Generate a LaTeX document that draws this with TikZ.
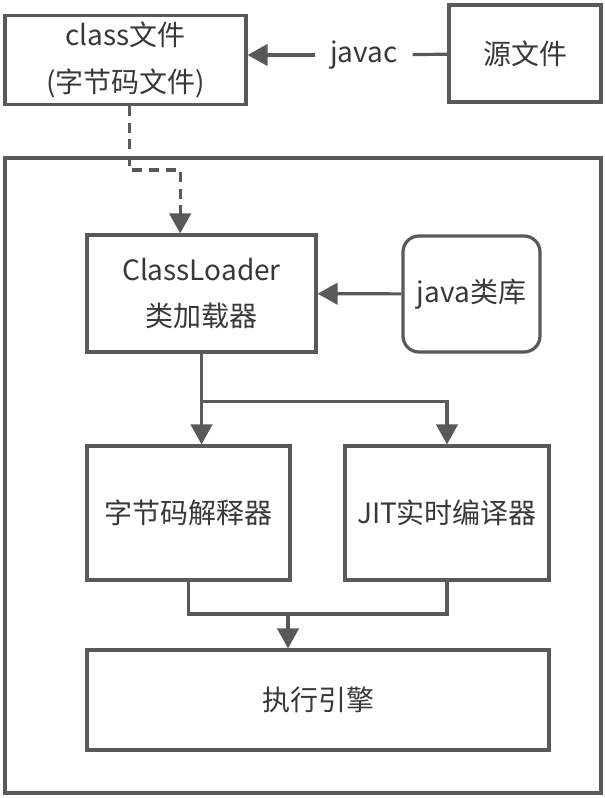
\documentclass[tikz,border=0pt]{standalone}
\usepackage{fontspec}
\newfontfamily\cjk{Noto Sans CJK SC}
\usepackage[HTML]{xcolor}
\usepackage{tikz}
\usetikzlibrary{positioning, arrows, arrows.meta}
\definecolor{linegray}{HTML}{595959}
\definecolor{textgray}{HTML}{383838}

\begin{document}
\begin{tikzpicture}[x=0.75pt,y=-0.75pt,
  box/.style={draw=linegray,line width=2.4pt,inner sep=0pt,align=center,
    font=\cjk\fontsize{21}{35}\selectfont,text=textgray},
  flow/.style={draw=linegray,line width=2.4pt,-{Triangle[length=15pt,width=16pt]}},
  wire/.style={draw=linegray,line width=2.4pt}]
\useasboundingbox (0,0) rectangle (605,798);
\node[box,minimum width=596*0.75pt,minimum height=635*0.75pt] (jvm) at (303,475.5) {};
\node[box,minimum width=241*0.75pt,minimum height=89*0.75pt] (cls) at (125.5,60) {class文件\\(字节码文件)};
\node[box,minimum width=152*0.75pt,minimum height=97*0.75pt] (src) at (525,53.5) {源文件};
\node[font=\cjk\fontsize{21}{24}\selectfont,text=textgray,inner xsep=11pt] (javac) at (364,55) {javac};
\node[box,minimum width=229*0.75pt,minimum height=117*0.75pt] (loader) at (201.5,293.5) {ClassLoader\\类加载器};
\node[box,rounded corners=12pt,minimum width=137*0.75pt,minimum height=116*0.75pt] (lib) at (471.5,294) {java类库};
\node[box,minimum width=203*0.75pt,minimum height=134*0.75pt] (interp) at (188.5,513) {字节码解释器};
\node[box,minimum width=204*0.75pt,minimum height=134*0.75pt] (jit) at (447,513) {JIT实时编译器};
\node[box,minimum width=462*0.75pt,minimum height=100*0.75pt] (engine) at (318,700) {执行引擎};
\coordinate (merge) at (288,614);
% compile step
\draw[wire] (src) -- (javac);
\draw[flow] (javac) -- (cls.east |- javac);
% loading
\draw[flow,dash pattern=on 7.5pt off 5pt] ([xshift=3pt]cls.south) -- ++(0,64) -| ([xshift=-16pt]loader.north);
\draw[flow] (lib) -- (loader);
\draw[flow] (loader.south) -- (loader.south |- interp.north);
\draw[flow] (loader.south) -- ++(0,48) -| (jit.north);
% execution
\draw[wire] (interp.south) |- (merge) -| (jit.south);
\draw[flow] (merge) -- (merge |- engine.north);
\end{tikzpicture}
\end{document}
